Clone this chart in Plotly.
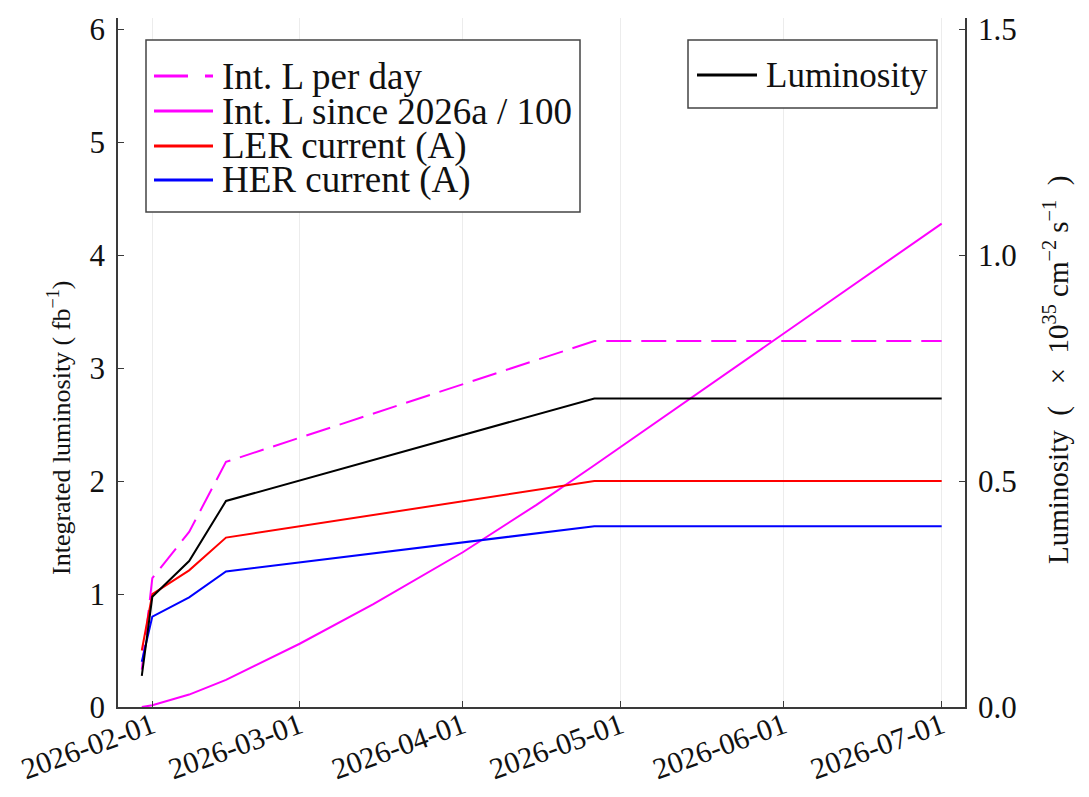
import plotly.graph_objects as go

# Run schedule: dates at which the machine parameters change
dates = ["2026-01-30", "2026-02-01", "2026-02-08", "2026-02-15", "2026-04-26", "2026-07-01"]

# Peak luminosity (x 1e35 cm^-2 s^-1), right axis
luminosity = [0.069, 0.244, 0.323, 0.456, 0.683, 0.683]
# Integrated luminosity per day (fb^-1)
int_l_per_day = [0.33, 1.14, 1.55, 2.17, 3.24, 3.24]
# Beam currents (A)
ler_current = [0.50, 1.00, 1.21, 1.50, 2.00, 2.00]
her_current = [0.40, 0.80, 0.97, 1.20, 1.60, 1.60]

# Cumulative integrated luminosity since start of 2026a, divided by 100
cum_dates = ["2026-01-30", "2026-02-01", "2026-02-08", "2026-02-15", "2026-03-01",
             "2026-03-15", "2026-04-01", "2026-04-15", "2026-04-26", "2026-07-01"]
cum_int_l = [0.0, 0.015, 0.11, 0.24, 0.56, 0.91, 1.37, 1.79, 2.14, 4.28]

month_ticks = ["2026-02-01", "2026-03-01", "2026-04-01", "2026-05-01", "2026-06-01", "2026-07-01"]

FONT = "Liberation Serif"
TXT = "#111111"
LW = 2
DASH = "25px,10px"
NB = "\u00a0"

# Plot-area geometry in pixels (figure is 1089 x 797)
W, H = 1089, 797
PL, PR, PT, PB = 118, 965, 18, 707


def px(x):
    return (x - PL) / (PR - PL)


def py(y):
    return (PB - y) / (PB - PT)


fig = go.Figure()
fig.add_trace(go.Scatter(x=dates, y=int_l_per_day, mode="lines", name="Int. L per day",
                         line=dict(color="#ff00ff", width=LW, dash=DASH)))
fig.add_trace(go.Scatter(x=cum_dates, y=cum_int_l, mode="lines", name="Int. L since 2026a / 100",
                         line=dict(color="#ff00ff", width=LW)))
fig.add_trace(go.Scatter(x=dates, y=ler_current, mode="lines", name="LER current (A)",
                         line=dict(color="#ff0000", width=LW)))
fig.add_trace(go.Scatter(x=dates, y=her_current, mode="lines", name="HER current (A)",
                         line=dict(color="#0000ff", width=LW)))
fig.add_trace(go.Scatter(x=dates, y=luminosity, mode="lines", name="Luminosity",
                         line=dict(color="#000000", width=LW), yaxis="y2"))

axis_common = dict(showline=True, linecolor="#3a3a3a", linewidth=1.5,
                   ticks="inside", ticklen=6, tickcolor="#3a3a3a", tickwidth=1.2,
                   zeroline=False, automargin=False)

# Hand-built legend boxes: (label, colour, dash) per row
legend_left = [("Int. L per day", "#ff00ff", "34px,17px"),
               ("Int. L since 2026a / 100", "#ff00ff", "solid"),
               ("LER current (A)", "#ff0000", "solid"),
               ("HER current (A)", "#0000ff", "solid")]
legend_right = [("Luminosity", "#000000", "solid")]

shapes = []
annotations = []


def add_legend(entries, box, row_y, line_x, text_x, size):
    x0, y0, x1, y1 = box
    shapes.append(dict(type="rect", xref="paper", yref="paper",
                       x0=px(x0), x1=px(x1), y0=py(y1), y1=py(y0),
                       fillcolor="white", line=dict(color="#444444", width=1.5)))
    for (label, color, dash), ry in zip(entries, row_y):
        shapes.append(dict(type="line", xref="paper", yref="paper",
                           x0=px(line_x[0]), x1=px(line_x[1]), y0=py(ry), y1=py(ry),
                           line=dict(color=color, width=3, dash=dash)))
        annotations.append(dict(text=label, xref="paper", yref="paper",
                                x=px(text_x), y=py(ry), xanchor="left", yanchor="middle",
                                showarrow=False, font=dict(family=FONT, size=size, color=TXT)))


add_legend(legend_left, (146, 40, 580, 212), [76, 111, 146, 180], (154, 213), 220, 37)
add_legend(legend_right, (688, 40, 937, 108), [75], (697, 757), 764, 35)

annotations.append(dict(text="Integrated luminosity" + NB + "(" + NB + "fb<sup>−1</sup>)", textangle=-90,
                        xref="paper", yref="paper", x=px(59), y=py(428),
                        xanchor="center", yanchor="middle", showarrow=False,
                        font=dict(family=FONT, size=26, color=TXT)))
right_title = ("Luminosity" + NB * 2 + "(" + NB * 3 + "×" + NB * 2 + "10<sup>35</sup>"
               + NB + "cm<sup>−2</sup>" + NB + "s<sup>−1</sup>" + NB * 2 + ")")
annotations.append(dict(text=right_title, textangle=-90,
                        xref="paper", yref="paper", x=px(1056), y=py(370),
                        xanchor="center", yanchor="middle", showarrow=False,
                        font=dict(family=FONT, size=29, color=TXT)))

fig.update_layout(
    width=W, height=H,
    margin=dict(l=PL, r=W - PR, t=PT, b=H - PB),
    paper_bgcolor="white", plot_bgcolor="white",
    font=dict(family=FONT, color=TXT),
    showlegend=False,
    xaxis=dict(type="date", range=["2026-01-25 11:30", "2026-07-05 10:20"],
               tickvals=month_ticks, ticktext=month_ticks, tickangle=-20,
               tickfont=dict(family=FONT, size=30, color=TXT), ticklabelstandoff=-12,
               showgrid=True, gridcolor="#ececec", gridwidth=1, **axis_common),
    yaxis=dict(range=[0, 6.1], tickvals=[0, 1, 2, 3, 4, 5, 6], showgrid=False,
               tickfont=dict(family=FONT, size=31, color=TXT), ticklabelstandoff=5,
               **axis_common),
    yaxis2=dict(range=[0, 1.525], tickvals=[0, 0.5, 1.0, 1.5], ticktext=["0.0", "0.5", "1.0", "1.5"],
                overlaying="y", side="right", showgrid=False,
                tickfont=dict(family=FONT, size=31, color=TXT), ticklabelstandoff=5,
                **axis_common),
    shapes=shapes,
    annotations=annotations,
)

fig.write_html("out.html")
